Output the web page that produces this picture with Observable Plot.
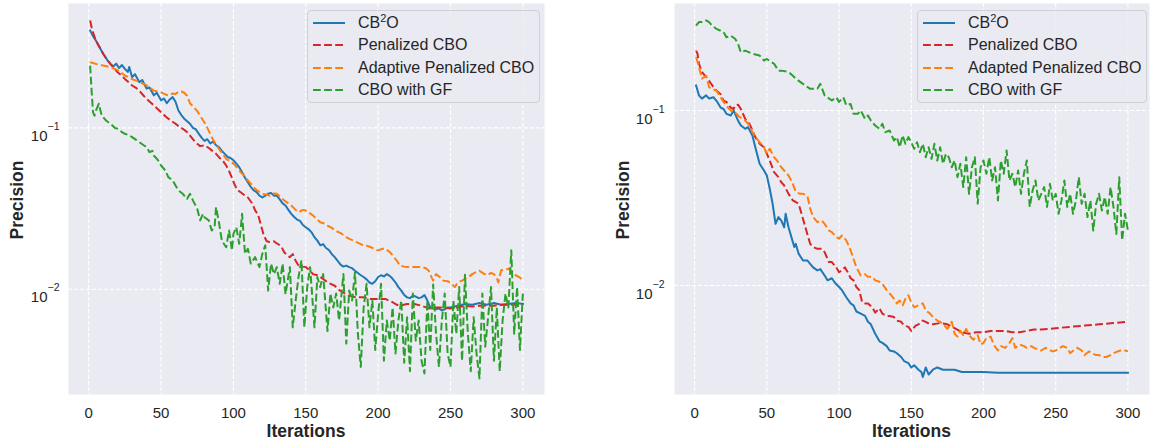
<!DOCTYPE html>
<html><head><meta charset="utf-8">
<script src="https://cdn.jsdelivr.net/npm/d3@7"></script>
<script src="https://cdn.jsdelivr.net/npm/@observablehq/plot@0.6"></script>
<style>
body{margin:0;background:#fff;font-family:"Liberation Sans",Arial,sans-serif;}
#wrap{position:relative;width:1150px;height:446px;overflow:hidden;}
.panel{position:absolute;top:0;}
.legend{position:absolute;top:10px;height:93px;box-sizing:border-box;border:1px solid #cfcfd6;border-radius:4px;background:rgba(234,234,242,0.8);padding-top:1px;}
.row{display:flex;align-items:center;height:22.3px;font-size:16px;color:#262626;white-space:nowrap;}
.row svg{margin-left:5px;margin-right:13px;}
.row sup{font-size:11px;line-height:0;vertical-align:6px;}
</style></head><body><div id="wrap"></div><script>
// ---------- data ----------
const xTicks = [0, 50, 100, 150, 200, 250, 300];
const yTicks = [0.01, 0.1];
const colors = ["#1f77b4", "#d62728", "#ff7f0e", "#2ca02c"];
const leftLabels = ["CB2O", "Penalized CBO", "Adaptive Penalized CBO", "CBO with GF"];
const rightLabels = ["CB2O", "Penalized CBO", "Adapted Penalized CBO", "CBO with GF"];

const leftCB2O = [[1,0.401],[3,0.37],[5,0.347],[8,0.31],[10,0.288],[13,0.262],[15,0.249],[17,0.24],[19,0.25],[21,0.235],[23,0.245],[25,0.232],[27,0.222],[28,0.238],[30,0.206],[32,0.215],[35,0.192],[37,0.198],[40,0.175],[42,0.178],[45,0.159],[47,0.165],[50,0.148],[52,0.152],[54,0.142],[56,0.15],[58,0.155],[60,0.145],[62,0.128],[64,0.12],[66,0.114],[68,0.11],[70,0.106],[72,0.1],[74,0.098],[76,0.092],[78,0.087],[80,0.083],[82,0.085],[84,0.08],[86,0.082],[88,0.078],[90,0.076],[92,0.072],[94,0.069],[96,0.066],[98,0.065],[100,0.063],[102,0.06],[104,0.057],[106,0.053],[108,0.049],[110,0.046],[112,0.043],[114,0.041],[116,0.04],[118,0.038],[120,0.037],[122,0.038],[124,0.039],[126,0.0395],[128,0.038],[130,0.038],[132,0.036],[134,0.034],[136,0.033],[138,0.031],[140,0.0293],[142,0.028],[144,0.027],[146,0.0265],[148,0.025],[150,0.0242],[152,0.0235],[154,0.0225],[156,0.021],[158,0.02],[160,0.0187],[162,0.019],[164,0.018],[166,0.0175],[168,0.0165],[170,0.0158],[172,0.015],[174,0.0142],[176,0.0138],[178,0.014],[180,0.0137],[182,0.0135],[184,0.013],[186,0.0126],[188,0.0122],[190,0.0119],[192,0.0115],[194,0.011],[196,0.0108],[198,0.0112],[200,0.0119],[202,0.0122],[204,0.012],[206,0.0124],[208,0.0121],[210,0.0116],[212,0.011],[214,0.0103],[216,0.0098],[218,0.0092],[220,0.0089],[222,0.0088],[224,0.0091],[226,0.009],[228,0.0088],[230,0.0089],[232,0.0092],[234,0.0085],[236,0.0077],[238,0.0076],[240,0.0075],[242,0.0076],[244,0.0074],[246,0.0075],[248,0.0077],[250,0.0077],[255,0.0079],[260,0.0081],[265,0.008],[270,0.0082],[275,0.008],[280,0.0082],[285,0.008],[290,0.0081],[295,0.0082],[300,0.0081]];
const leftPenalized = [[1,0.462],[2,0.42],[3,0.39],[5,0.347],[8,0.31],[10,0.288],[13,0.262],[15,0.249],[18,0.232],[20,0.221],[23,0.21],[25,0.201],[28,0.19],[30,0.183],[33,0.176],[35,0.17],[38,0.158],[40,0.151],[43,0.143],[45,0.138],[48,0.13],[50,0.125],[53,0.118],[55,0.114],[58,0.109],[60,0.106],[63,0.101],[65,0.0986],[68,0.094],[70,0.0896],[73,0.083],[75,0.0796],[77,0.077],[80,0.078],[83,0.075],[85,0.0725],[88,0.069],[90,0.0658],[93,0.062],[95,0.0584],[97,0.054],[99,0.049],[101,0.044],[103,0.041],[105,0.0399],[108,0.038],[110,0.037],[113,0.034],[115,0.0308],[117,0.029],[119,0.025],[121,0.0215],[123,0.0198],[125,0.0196],[128,0.0198],[130,0.0192],[133,0.0185],[135,0.017],[137,0.0162],[139,0.0158],[141,0.0165],[143,0.015],[145,0.014],[148,0.0138],[150,0.0137],[153,0.013],[155,0.0124],[158,0.0122],[160,0.0119],[163,0.0114],[165,0.011],[168,0.0107],[170,0.0105],[173,0.0099],[175,0.0096],[178,0.0093],[180,0.0091],[185,0.0089],[190,0.0089],[195,0.0087],[200,0.0087],[205,0.0087],[210,0.0083],[213,0.008],[215,0.0079],[220,0.0081],[225,0.0081],[230,0.0079],[235,0.0076],[240,0.0077],[245,0.0077],[250,0.0076],[255,0.0077],[260,0.0079],[265,0.0078],[270,0.0079],[275,0.0079],[280,0.0079],[285,0.008],[290,0.008],[295,0.008],[300,0.0081]];
const leftAdaptive = [[1,0.255],[3,0.252],[5,0.249],[8,0.246],[10,0.243],[13,0.24],[15,0.238],[18,0.232],[20,0.228],[23,0.218],[25,0.211],[28,0.205],[30,0.2],[33,0.196],[35,0.192],[38,0.187],[40,0.183],[43,0.175],[45,0.17],[48,0.168],[50,0.166],[53,0.161],[55,0.159],[58,0.163],[60,0.162],[62,0.167],[64,0.168],[66,0.165],[68,0.158],[70,0.142],[72,0.136],[75,0.127],[78,0.115],[80,0.108],[82,0.1],[85,0.0875],[88,0.079],[90,0.074],[93,0.068],[95,0.0643],[98,0.062],[100,0.06],[103,0.056],[105,0.0531],[108,0.05],[110,0.0472],[113,0.044],[115,0.0419],[118,0.04],[120,0.039],[123,0.0385],[125,0.038],[128,0.0392],[130,0.039],[133,0.037],[135,0.0355],[138,0.034],[140,0.033],[143,0.031],[145,0.03],[148,0.031],[150,0.0307],[153,0.0295],[155,0.0286],[158,0.027],[160,0.026],[163,0.0255],[165,0.0248],[168,0.024],[170,0.0231],[173,0.0225],[175,0.022],[178,0.021],[180,0.0205],[183,0.02],[185,0.0196],[188,0.019],[190,0.0187],[193,0.0185],[195,0.0182],[198,0.0176],[200,0.0174],[203,0.0178],[205,0.0178],[208,0.017],[210,0.0162],[213,0.015],[215,0.014],[218,0.0138],[220,0.0137],[225,0.0137],[230,0.0137],[233,0.0135],[235,0.013],[237,0.0118],[238,0.0113],[240,0.0124],[243,0.0118],[245,0.0113],[248,0.0112],[250,0.011],[252,0.0105],[253,0.0103],[255,0.011],[258,0.0113],[260,0.0116],[263,0.012],[265,0.0124],[268,0.0128],[270,0.013],[273,0.0125],[275,0.0122],[278,0.0126],[280,0.0124],[282,0.0118],[283,0.011],[285,0.0131],[288,0.0132],[290,0.0134],[293,0.0128],[295,0.0122],[298,0.0118],[300,0.0113]];
const leftGF = [[1,0.243],[2,0.17],[3,0.125],[4,0.119],[5,0.128],[7,0.141],[9,0.119],[12,0.111],[15,0.106],[18,0.1],[20,0.0986],[23,0.094],[25,0.0918],[28,0.09],[30,0.0875],[33,0.084],[35,0.0815],[38,0.078],[40,0.0759],[42,0.0707],[44,0.072],[45,0.0674],[48,0.0628],[50,0.0584],[53,0.0544],[55,0.0495],[58,0.0472],[60,0.0439],[62,0.0409],[65,0.039],[68,0.0363],[70,0.039],[72,0.0355],[75,0.0315],[77,0.0267],[79,0.0293],[80,0.0279],[83,0.0267],[85,0.0231],[87,0.0242],[88,0.0322],[90,0.026],[92,0.02],[95,0.0182],[97,0.0231],[99,0.0174],[100,0.022],[102,0.0242],[104,0.0191],[106,0.0293],[108,0.0166],[110,0.0178],[112,0.0144],[115,0.0158],[118,0.0137],[120,0.0166],[122,0.0187],[124,0.0098],[126,0.0144],[128,0.0124],[130,0.0137],[132,0.0108],[134,0.0144],[136,0.0093],[139,0.0137],[141,0.0058],[143,0.0085],[145,0.0119],[147,0.0151],[149,0.0058],[151,0.0103],[153,0.0137],[156,0.0058],[158,0.0119],[160,0.0103],[162,0.0124],[165,0.0055],[167,0.0094],[169,0.0077],[171,0.0094],[173,0.0064],[176,0.0124],[178,0.0046],[180,0.0098],[182,0.0085],[184,0.0127],[186,0.0053],[188,0.0033],[190,0.0077],[192,0.0108],[194,0.0058],[196,0.0085],[198,0.0042],[200,0.007],[202,0.0108],[204,0.0036],[206,0.0064],[208,0.0048],[210,0.0077],[212,0.004],[214,0.0064],[216,0.0085],[218,0.0035],[220,0.0067],[222,0.0031],[224,0.0094],[226,0.0048],[228,0.0064],[230,0.0036],[232,0.003],[234,0.0085],[236,0.0042],[238,0.0107],[240,0.0053],[242,0.0033],[244,0.0064],[246,0.0094],[248,0.004],[250,0.0033],[252,0.0085],[254,0.0053],[256,0.0103],[258,0.0036],[260,0.0123],[262,0.0053],[264,0.0031],[266,0.0067],[268,0.004],[270,0.0028],[272,0.0094],[274,0.0044],[276,0.0067],[278,0.0103],[280,0.0036],[282,0.0077],[284,0.0031],[286,0.0064],[288,0.0094],[290,0.0077],[292,0.0174],[294,0.0053],[296,0.0103],[298,0.0042],[300,0.0094]];

const rightCB2O = [[1,0.139],[3,0.122],[5,0.117],[8,0.122],[10,0.117],[13,0.119],[15,0.114],[18,0.104],[20,0.102],[22,0.0957],[25,0.0936],[27,0.1],[30,0.0877],[32,0.0821],[35,0.0786],[37,0.0803],[40,0.072],[42,0.0617],[45,0.0496],[48,0.0454],[50,0.0425],[52,0.0357],[54,0.0293],[55,0.0257],[56,0.0225],[58,0.0246],[60,0.0235],[62,0.0215],[63,0.0257],[65,0.0215],[67,0.0189],[69,0.0166],[70,0.0173],[72,0.0152],[75,0.0139],[78,0.0139],[80,0.0133],[82,0.0127],[85,0.0122],[87,0.0124],[90,0.0114],[92,0.0107],[95,0.011],[97,0.0104],[100,0.0098],[102,0.0094],[105,0.00856],[108,0.0079],[110,0.0077],[112,0.0071],[115,0.0069],[118,0.0067],[120,0.0062],[122,0.006],[125,0.0053],[128,0.0048],[130,0.0047],[133,0.0045],[135,0.00425],[138,0.0042],[140,0.0041],[143,0.0039],[145,0.0037],[148,0.0036],[150,0.0034],[152,0.0035],[155,0.0033],[157,0.0032],[158,0.003],[160,0.0034],[162,0.0031],[165,0.0033],[168,0.0034],[172,0.0033],[175,0.0033],[180,0.0033],[185,0.0032],[190,0.0032],[195,0.0032],[200,0.0032],[210,0.00317],[220,0.00317],[240,0.00317],[260,0.00317],[280,0.00317],[300,0.00317]];
const rightPenalized = [[1,0.22],[2,0.211],[3,0.185],[5,0.166],[8,0.155],[10,0.148],[13,0.136],[15,0.13],[18,0.124],[20,0.114],[22,0.112],[25,0.104],[27,0.102],[28,0.107],[30,0.108],[32,0.102],[35,0.0896],[38,0.0839],[40,0.0769],[42,0.0705],[45,0.0645],[48,0.0617],[50,0.0566],[52,0.0518],[55,0.0444],[58,0.0416],[60,0.0389],[62,0.0373],[65,0.0334],[68,0.0306],[70,0.03],[72,0.0293],[74,0.0257],[76,0.0225],[78,0.0197],[80,0.0173],[82,0.0166],[85,0.0162],[88,0.0162],[90,0.0155],[93,0.0136],[95,0.0136],[98,0.0127],[100,0.0119],[102,0.0122],[104,0.0127],[106,0.0119],[108,0.011],[110,0.0107],[112,0.0098],[114,0.0094],[116,0.008],[118,0.0079],[120,0.0079],[123,0.0075],[125,0.007],[128,0.0074],[130,0.0069],[133,0.0067],[135,0.0067],[138,0.0066],[140,0.0063],[143,0.0062],[145,0.0059],[148,0.0058],[150,0.0055],[153,0.0059],[155,0.006],[158,0.0063],[160,0.0062],[163,0.006],[165,0.006],[170,0.0061],[175,0.006],[180,0.0057],[185,0.0054],[190,0.0053],[195,0.0054],[200,0.0054],[205,0.0055],[210,0.0055],[215,0.0055],[220,0.0054],[225,0.0054],[230,0.0055],[235,0.0056],[240,0.0056],[250,0.0057],[260,0.0058],[270,0.0059],[280,0.006],[290,0.0061],[300,0.0062]];
const rightAdapted = [[1,0.202],[3,0.177],[5,0.152],[8,0.158],[10,0.136],[12,0.133],[15,0.13],[18,0.119],[20,0.112],[23,0.104],[25,0.1],[28,0.0978],[30,0.0936],[33,0.0896],[35,0.0877],[38,0.0821],[40,0.0752],[42,0.0705],[45,0.0659],[48,0.0617],[50,0.0566],[52,0.0604],[55,0.0541],[57,0.0518],[60,0.0474],[63,0.0444],[65,0.0425],[68,0.0381],[70,0.0342],[73,0.0334],[75,0.0334],[78,0.0327],[80,0.0275],[82,0.0246],[85,0.023],[88,0.0235],[90,0.0225],[93,0.0206],[95,0.0202],[98,0.0189],[100,0.0185],[102,0.0193],[105,0.0181],[108,0.0159],[110,0.0142],[112,0.0127],[115,0.0114],[118,0.0116],[120,0.0112],[123,0.0112],[125,0.0107],[128,0.0105],[130,0.0102],[133,0.0094],[135,0.009],[138,0.0084],[140,0.0079],[142,0.0082],[144,0.0077],[146,0.0084],[148,0.0088],[150,0.008],[152,0.0075],[155,0.0077],[158,0.0079],[160,0.0072],[163,0.0069],[165,0.0066],[168,0.0063],[170,0.0062],[173,0.0059],[175,0.00565],[178,0.0062],[180,0.0053],[182,0.0051],[184,0.0055],[186,0.0052],[188,0.00565],[190,0.0052],[193,0.0049],[196,0.0052],[198,0.0046],[200,0.0047],[202,0.005],[205,0.0051],[207,0.0046],[210,0.00425],[212,0.0045],[215,0.0044],[218,0.0047],[220,0.005],[222,0.0044],[225,0.0046],[228,0.0045],[230,0.0044],[233,0.0045],[235,0.0044],[238,0.0043],[240,0.00425],[243,0.0044],[245,0.0043],[248,0.0042],[250,0.00425],[253,0.0044],[255,0.0045],[258,0.0044],[260,0.0041],[263,0.0043],[265,0.0044],[268,0.00425],[270,0.004],[273,0.0042],[275,0.0041],[278,0.004],[280,0.004],[283,0.0039],[285,0.0039],[288,0.004],[290,0.0041],[293,0.0042],[295,0.00425],[298,0.00425],[300,0.0042]];
const rightGF = [[1,0.306],[3,0.32],[5,0.32],[8,0.327],[10,0.32],[12,0.306],[15,0.293],[20,0.281],[22,0.262],[25,0.268],[28,0.257],[30,0.241],[32,0.215],[35,0.22],[40,0.211],[45,0.206],[48,0.193],[50,0.197],[55,0.185],[58,0.169],[60,0.169],[65,0.166],[68,0.158],[70,0.152],[75,0.142],[80,0.133],[85,0.133],[87,0.142],[90,0.122],[95,0.114],[98,0.119],[100,0.112],[103,0.119],[105,0.107],[108,0.109],[110,0.0957],[113,0.0957],[115,0.1],[118,0.0896],[120,0.0936],[122,0.0877],[125,0.0821],[128,0.0786],[130,0.0839],[132,0.0752],[135,0.0769],[138,0.0674],[140,0.0705],[142,0.0617],[144,0.072],[146,0.0645],[148,0.0705],[150,0.0659],[152,0.0604],[154,0.0659],[156,0.0578],[158,0.0645],[160,0.0541],[162,0.0617],[164,0.0529],[166,0.0645],[168,0.0518],[170,0.0617],[172,0.0496],[174,0.0566],[176,0.0541],[178,0.0474],[180,0.0518],[182,0.0416],[184,0.0496],[186,0.0365],[188,0.0541],[190,0.0334],[192,0.0474],[194,0.0541],[196,0.0293],[198,0.0474],[200,0.0518],[202,0.0435],[204,0.0541],[206,0.0398],[208,0.0474],[210,0.0306],[212,0.0518],[214,0.0435],[216,0.0591],[218,0.0398],[220,0.0435],[222,0.0365],[224,0.0454],[226,0.0334],[228,0.0435],[230,0.0518],[232,0.0281],[234,0.0349],[236,0.0398],[238,0.0306],[240,0.0334],[242,0.0365],[244,0.0281],[246,0.0381],[248,0.0306],[250,0.0334],[252,0.0257],[254,0.0306],[256,0.0398],[258,0.0281],[260,0.0334],[262,0.0257],[264,0.0306],[266,0.0416],[268,0.0293],[270,0.0334],[272,0.0246],[274,0.0306],[276,0.0206],[278,0.0293],[280,0.0334],[282,0.0268],[284,0.032],[286,0.0257],[288,0.0365],[290,0.0281],[292,0.0197],[294,0.0416],[296,0.0181],[298,0.0257],[300,0.0206]];

// ---------- drawing ----------
const W = 560, H = 446;

function makePanel(cfg) {
  const marks = [
    Plot.frame({fill: "#EAEAF2", stroke: "none"}),
    Plot.gridX(xTicks, {stroke: "#ffffff", strokeOpacity: 1, strokeWidth: 1.1, strokeDasharray: "4,2"}),
    Plot.gridY(yTicks, {stroke: "#ffffff", strokeOpacity: 1, strokeWidth: 1.1, strokeDasharray: "4,2"}),
    Plot.axisX(xTicks, {tickSize: 0, tickPadding: 13, label: null, fill: "#262626"}),
    Plot.axisY(yTicks, {tickSize: 0, tickPadding: cfg.yPad, label: null, fill: "#262626", tickFormat: d => "10"})
  ];
  cfg.series.forEach((s, i) => {
    marks.push(Plot.line(s, {
      x: d => d[0], y: d => d[1], stroke: colors[i], strokeWidth: 2,
      strokeDasharray: i === 0 ? null : "7.8,3.3",
      strokeLinecap: i === 0 ? "square" : "butt", strokeLinejoin: "round"
    }));
  });
  const plot = Plot.plot({
    width: W, height: H,
    marginLeft: cfg.ml, marginRight: cfg.mr, marginTop: 3, marginBottom: 52,
    x: {domain: [-13.95, 314.95]},
    y: {type: "log", domain: cfg.yDomain},
    style: {background: "transparent", fontSize: "15px", fontFamily: "'Liberation Sans', Arial, sans-serif", overflow: "visible"},
    marks
  });
  const svg = d3.select(plot);
  // superscript exponents on y tick labels
  svg.selectAll('g[aria-label="y-axis tick label"] text').each(function(d) {
    const v = yTicks[d];
    const e = Math.round(Math.log10(v));
    const t = d3.select(this);
    t.text(null).attr("dy", "8.5px");
    t.append("tspan").text("10");
    t.append("tspan").attr("dy", "-11px").attr("font-size", "10.5px").text(String(e).replace("-", "\u2212"));
  });
  const cx = (cfg.ml + (W - cfg.mr)) / 2;
  svg.append("text").attr("x", cx).attr("y", 437).attr("text-anchor", "middle")
    .attr("font-weight", "bold").attr("font-size", "17.5px").attr("fill", "#262626").text("Iterations");
  svg.append("text").attr("transform", `translate(${cfg.labelX},200) rotate(-90)`).attr("text-anchor", "middle")
    .attr("font-weight", "bold").attr("font-size", "17.5px").attr("fill", "#262626").text("Precision");
  const div = document.createElement("div");
  div.className = "panel";
  div.style.left = cfg.left + "px";
  div.appendChild(plot);
  return div;
}

function makeLegend(labels, left, width) {
  const box = document.createElement("div");
  box.className = "legend";
  box.style.left = left + "px";
  box.style.width = width + "px";
  labels.forEach((lab, i) => {
    const row = document.createElement("div");
    row.className = "row";
    const dash = i === 0 ? "" : `stroke-dasharray="7.8,3.3"`;
    row.innerHTML = `<svg width="32" height="6"><line x1="0" x2="32" y1="3" y2="3" stroke="${colors[i]}" stroke-width="2" ${dash}/></svg>` +
      `<span>${lab === "CB2O" ? "CB<sup>2</sup>O" : lab}</span>`;
    box.appendChild(row);
  });
  return box;
}

const wrap = document.getElementById("wrap");
wrap.appendChild(makePanel({series: [leftCB2O, leftPenalized, leftAdaptive, leftGF], yDomain: [0.002225, 0.5895], ml: 68, mr: 16, left: 0, labelX: 23, yPad: 9}));
wrap.appendChild(makePanel({series: [rightCB2O, rightPenalized, rightAdapted, rightGF], yDomain: [0.002382, 0.4088], ml: 84, mr: 1, left: 590, labelX: 39, yPad: 10}));
wrap.appendChild(makeLegend(leftLabels, 307, 233));
wrap.appendChild(makeLegend(rightLabels, 917, 230));
</script></body></html>
